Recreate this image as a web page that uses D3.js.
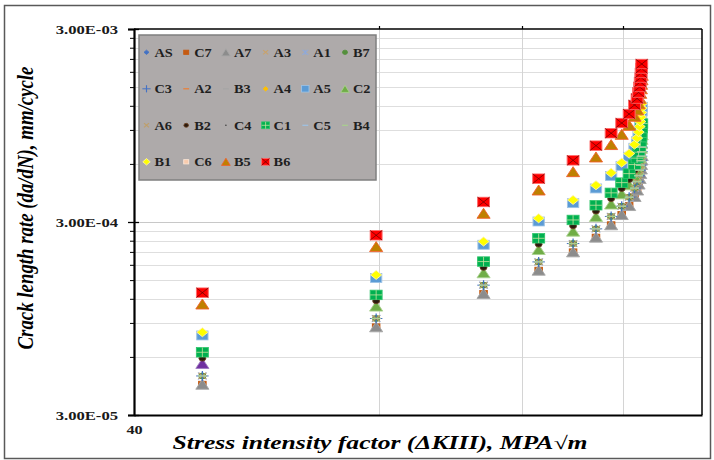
<!DOCTYPE html>
<html><head><meta charset="utf-8">
<script src="https://cdn.jsdelivr.net/npm/d3@7"></script>
<style>
body{margin:0;background:#fff}
svg{display:block}
text{font-family:"Liberation Serif","Times New Roman",serif}
</style>
</head><body>
<svg id="chart" width="714" height="460"></svg>
<script>
// ---------------- DATA ----------------
const stressIntensity = [48.55, 79.44, 107.7, 125.9, 138.8, 148.1, 154.6, 159.3, 162.7, 165.2, 166.4, 167.1, 167.6, 167.9, 168.2, 168.3, 168.5, 168.6];

const rateB6 = [1.291e-4, 2.56e-4, 3.81e-4, 5.03e-4, 6.26e-4, 7.46e-4, 8.65e-4, 9.77e-4, 1.088e-3, 1.212e-3, 1.309e-3, 1.406e-3, 1.502e-3, 1.594e-3, 1.682e-3, 1.775e-3, 1.873e-3, 1.976e-3];
const rateB5 = [1.128e-4, 2.237e-4, 3.329e-4, 4.395e-4, 5.470e-4, 6.519e-4, 7.558e-4, 8.537e-4, 9.507e-4, 1.059e-3, 1.144e-3, 1.229e-3, 1.312e-3, 1.393e-3, 1.470e-3, 1.551e-3, 1.637e-3, 1.727e-3];
const rateB1 = [0.805e-4, 1.596e-4, 2.376e-4, 3.136e-4, 3.903e-4, 4.651e-4, 5.393e-4, 6.092e-4, 6.784e-4, 7.557e-4, 8.162e-4, 8.766e-4, 9.365e-4, 9.939e-4, 1.0487e-3, 1.1067e-3, 1.1678e-3, 1.232e-3];
const rateA5 = [0.775e-4, 1.537e-4, 2.287e-4, 3.019e-4, 3.757e-4, 4.477e-4, 5.192e-4, 5.864e-4, 6.530e-4, 7.274e-4, 7.857e-4, 8.439e-4, 9.015e-4, 9.567e-4, 1.0095e-3, 1.0654e-3, 1.1242e-3, 1.186e-3];
const rateC1 = [0.634e-4, 1.257e-4, 1.871e-4, 2.470e-4, 3.074e-4, 3.664e-4, 4.248e-4, 4.798e-4, 5.343e-4, 5.952e-4, 6.429e-4, 6.905e-4, 7.376e-4, 7.828e-4, 8.260e-4, 8.717e-4, 9.198e-4, 9.704e-4];
const rateB2 = [0.590e-4, 1.170e-4, 1.742e-4, 2.299e-4, 2.861e-4, 3.410e-4, 3.954e-4, 4.466e-4, 4.973e-4, 5.540e-4, 5.983e-4, 6.427e-4, 6.866e-4, 7.286e-4, 7.688e-4, 8.114e-4, 8.561e-4, 9.032e-4];
const rateC2 = [0.555e-4, 1.100e-4, 1.637e-4, 2.161e-4, 2.690e-4, 3.206e-4, 3.717e-4, 4.198e-4, 4.675e-4, 5.208e-4, 5.625e-4, 6.042e-4, 6.454e-4, 6.849e-4, 7.228e-4, 7.627e-4, 8.048e-4, 8.491e-4];
const rateCluster = [0.478e-4, 0.949e-4, 1.412e-4, 1.864e-4, 2.320e-4, 2.765e-4, 3.206e-4, 3.621e-4, 4.032e-4, 4.492e-4, 4.851e-4, 5.211e-4, 5.566e-4, 5.907e-4, 6.233e-4, 6.578e-4, 6.941e-4, 7.323e-4];
const rateA7 = [0.433e-4, 0.859e-4, 1.279e-4, 1.688e-4, 2.101e-4, 2.504e-4, 2.903e-4, 3.279e-4, 3.651e-4, 4.067e-4, 4.393e-4, 4.718e-4, 5.041e-4, 5.349e-4, 5.645e-4, 5.957e-4, 6.286e-4, 6.631e-4];

const seriesNames = ["AS","C7","A7","A3","A1","B7","C3","A2","B3","A4","A5","C2","A6","B2","C4","C1","C5","B4","B1","C6","B5","B6"];
const seriesRates = {
  AS: rateCluster, C7: rateA7, A7: rateA7, A3: rateCluster, A1: rateCluster, B7: rateCluster,
  C3: rateCluster, A2: rateCluster, B3: rateCluster, A4: rateB1, A5: rateA5, C2: rateC2,
  A6: rateCluster, B2: rateB2, C4: rateCluster, C1: rateC1, C5: rateCluster, B4: rateCluster,
  B1: rateB1, C6: rateB6, B5: rateB5, B6: rateB6
};
const pointOverrides = [{series: "C2", index: 0, fill: "#7030a0", stroke: "#9e7cc1"}];

const yTickValues = [3e-5, 3e-4, 3e-3];
const yTickLabels = ["3.00E-05", "3.00E-04", "3.00E-03"];
const xTickValues = [40];
const xTickLabels = ["40"];
const xGridValues = [80, 120, 160];

const xTitle = "Stress intensity factor (ΔKIII), MPA√m";
const yTitle = "Crack length rate (da/dN), mm/cycle";

// ---------------- STYLES ----------------
const SERIF = '"Liberation Serif","Times New Roman",serif';
const markerStyle = {
  AS: {shape: "diamond", size: 6, fill: "#4472c4", stroke: "#4472c4"},
  C7: {shape: "square", size: 6, fill: "#c55a11", stroke: "#c55a11"},
  A7: {shape: "triangle", size: 10, fill: "#8c8c8c", stroke: "#a6a6a6"},
  A3: {shape: "x", size: 6, fill: "none", stroke: "#c9a26b"},
  A1: {shape: "star", size: 7, fill: "none", stroke: "#8faadc"},
  B7: {shape: "circle", size: 6, fill: "#548f3c", stroke: "#548f3c"},
  C3: {shape: "plus", size: 10, fill: "none", stroke: "#4472c4"},
  A2: {shape: "dash", size: 7, fill: "none", stroke: "#ed7d31"},
  B3: {shape: "dash", size: 7, fill: "none", stroke: "#a5a5a5"},
  A4: {shape: "diamond", size: 6, fill: "#ffc000", stroke: "#ffc000"},
  A5: {shape: "square", size: 9, fill: "#5b9bd5", stroke: "#9dc3e6"},
  C2: {shape: "triangle", size: 10, fill: "#70ad47", stroke: "#a9d18e"},
  A6: {shape: "x", size: 6, fill: "none", stroke: "#bf9f6a"},
  B2: {shape: "circle", size: 5.5, fill: "#2b1a0e", stroke: "#6b4020"},
  C4: {shape: "dot", size: 2, fill: "#404040", stroke: "none"},
  C1: {shape: "squarePlus", size: 9.5, fill: "#00b050", stroke: "#2fc56a", inner: "#c9e3a0"},
  C5: {shape: "dash", size: 7, fill: "none", stroke: "#9dc3e6"},
  B4: {shape: "dash", size: 7, fill: "none", stroke: "#a9d18e"},
  B1: {shape: "diamond", size: 9, fill: "#ffff00", stroke: "#fff2a8"},
  C6: {shape: "square", size: 6, fill: "#f8cbad", stroke: "#fbe5d6"},
  B5: {shape: "triangle", size: 10, fill: "#bf8000", stroke: "#f0602a"},
  B6: {shape: "squareX", size: 9.5, fill: "#ff0000", stroke: "#ff6a6a", inner: "#5a0000"}
};

function drawMarker(g, st, k, fill, stroke) {
  const h = st.size * k, r = h / 2;
  fill = fill || st.fill; stroke = stroke || st.stroke;
  const line = (x1, y1, x2, y2, c, w) => g.append("line").attr("x1", x1).attr("y1", y1).attr("x2", x2).attr("y2", y2)
      .attr("stroke", c).attr("stroke-width", w);
  switch (st.shape) {
    case "diamond":
      g.append("path").attr("d", `M0,${-r}L${r},0L0,${r}L${-r},0Z`).attr("fill", fill).attr("stroke", stroke).attr("stroke-width", 0.8); break;
    case "square":
      g.append("rect").attr("x", -r).attr("y", -r).attr("width", h).attr("height", h).attr("fill", fill).attr("stroke", stroke).attr("stroke-width", 0.8); break;
    case "squarePlus":
      g.append("rect").attr("x", -r).attr("y", -r).attr("width", h).attr("height", h).attr("fill", fill).attr("stroke", stroke).attr("stroke-width", 0.8);
      line(-r, 0, r, 0, st.inner, 0.7); line(0, -r, 0, r, st.inner, 0.7); break;
    case "squareX":
      g.append("rect").attr("x", -r).attr("y", -r).attr("width", h).attr("height", h).attr("fill", fill).attr("stroke", stroke).attr("stroke-width", 0.8);
      line(-r, -r, r, r, st.inner, 0.6); line(-r, r, r, -r, st.inner, 0.6); break;
    case "triangle":
      g.append("path").attr("d", `M0,${-r}L${r * 1.05},${r}L${-r * 1.05},${r}Z`).attr("fill", fill).attr("stroke", stroke).attr("stroke-width", 0.8); break;
    case "circle":
      g.append("circle").attr("r", r).attr("fill", fill).attr("stroke", stroke).attr("stroke-width", 0.8); break;
    case "dot":
      g.append("circle").attr("r", r).attr("fill", fill); break;
    case "x":
      line(-r, -r, r, r, stroke, 1); line(-r, r, r, -r, stroke, 1); break;
    case "star":
      line(-r, -r, r, r, stroke, 0.9); line(-r, r, r, -r, stroke, 0.9); line(0, -r, 0, r, stroke, 0.9); break;
    case "plus":
      line(-r, 0, r, 0, stroke, 1); line(0, -r, 0, r, stroke, 1); break;
    case "dash":
      line(-r, 0, r, 0, stroke, 1.2); break;
  }
}

// ---------------- LAYOUT ----------------
const svg = d3.select("#chart");
const L = 134, R = 702, T = 29, B = 415;
const stretch = 1.25;      // the reference is drawn horizontally stretched
const textStretch = 1.3;

const x = d3.scaleLog().domain([40, 200]).range([L, R]);
const y = d3.scaleLog().domain([3e-5, 3e-3]).range([B, T]);

// outer frame
svg.append("rect").attr("x", 4.5).attr("y", 5.5).attr("width", 706).attr("height", 453)
  .attr("fill", "#fff").attr("stroke", "#595959").attr("stroke-width", 1.5);

// minor y values (Excel-style minor units of a decade starting at 3e-5)
const yMinor = [];
yTickValues.slice(0, -1).forEach(d => { for (let n = 2; n <= 9; n++) yMinor.push(d * n); });

const grid = svg.append("g");
grid.selectAll("line.hy").data(yMinor.concat([yTickValues[1]])).join("line")
  .attr("x1", L).attr("x2", R).attr("y1", d => Math.round(y(d)) + 0.5).attr("y2", d => Math.round(y(d)) + 0.5)
  .attr("stroke", d => d === yTickValues[1] ? "#c8c8c8" : "#dedede").attr("stroke-width", 1);
grid.selectAll("line.vx").data(xGridValues).join("line")
  .attr("x1", d => Math.round(x(d)) + 0.5).attr("x2", d => Math.round(x(d)) + 0.5).attr("y1", T).attr("y2", B)
  .attr("stroke", "#d4d4d4").attr("stroke-width", 1);
grid.selectAll("line.tt").data(xGridValues).join("line")
  .attr("x1", d => Math.round(x(d)) + 0.5).attr("x2", d => Math.round(x(d)) + 0.5).attr("y1", T - 3).attr("y2", T)
  .attr("stroke", "#000").attr("stroke-width", 1.2);

// plot border top/right
svg.append("line").attr("x1", L).attr("x2", R).attr("y1", T).attr("y2", T).attr("stroke", "#000").attr("stroke-width", 1.5);
svg.append("line").attr("x1", R).attr("x2", R).attr("y1", T).attr("y2", B).attr("stroke", "#000").attr("stroke-width", 1.5);

// y axis
const yAxis = d3.axisLeft(y).tickValues(yTickValues).tickFormat((d, i) => yTickLabels[i]).tickSize(6).tickPadding(10);
const gy = svg.append("g").attr("transform", `translate(${L},0)`).call(yAxis);
gy.attr("font-family", null).attr("font-size", null);
gy.select(".domain").attr("stroke", "#000").attr("stroke-width", 2.2);
gy.selectAll(".tick line").attr("stroke", "#000").attr("stroke-width", 1.3).attr("x2", -6).attr("x1", 5);
gy.selectAll(".tick text")
  .attr("x", -(L - 118) / textStretch).attr("transform", `scale(${textStretch},1)`)
  .style("font-size", "12.8px").style("font-weight", "bold").style("font-family", SERIF)
  .attr("fill", "#1a1a1a");
const gyMinor = svg.append("g").attr("transform", `translate(${L},0)`)
  .call(d3.axisLeft(y).tickValues(yMinor).tickFormat("").tickSize(4));
gyMinor.select(".domain").remove();
gyMinor.selectAll(".tick line").attr("stroke", "#000").attr("stroke-width", 1);

// x axis
const xAxis = d3.axisBottom(x).tickValues(xTickValues).tickFormat((d, i) => xTickLabels[i]).tickSize(0).tickPadding(10);
const gx = svg.append("g").attr("transform", `translate(0,${B})`).call(xAxis);
gx.attr("font-family", null).attr("font-size", null);
gx.select(".domain").attr("stroke", "#000").attr("stroke-width", 2.2);
gx.selectAll(".tick text").attr("transform", `scale(${textStretch},1)`)
  .style("font-size", "12.5px").style("font-weight", "bold").style("font-family", SERIF)
  .attr("fill", "#1a1a1a");

// points
const pts = svg.append("g");
seriesNames.forEach(name => {
  const st = markerStyle[name];
  seriesRates[name].forEach((v, i) => {
    const ov = pointOverrides.find(o => o.series === name && o.index === i);
    const g = pts.append("g").attr("transform", `translate(${x(stressIntensity[i])},${y(v)}) scale(${stretch},1)`);
    drawMarker(g, st, 1, ov && ov.fill, ov && ov.stroke);
  });
});

// legend
const lg = svg.append("g");
lg.append("rect").attr("x", 139).attr("y", 35).attr("width", 237).attr("height", 145)
  .attr("fill", "#aeaaaa").attr("stroke", "#7f7f7f").attr("stroke-width", 1.5);
seriesNames.forEach((name, i) => {
  const c = i % 6, r = Math.floor(i / 6);
  const mx = 146.5 + c * 39.7, my = 52.3 + r * 36.5;
  const g = lg.append("g").attr("transform", `translate(${mx},${my}) scale(1.15,1)`);
  drawMarker(g, markerStyle[name], 0.72);
  lg.append("text").attr("transform", `translate(${mx + 8},${my + 4.4}) scale(1.12,1)`).text(name)
    .style("font-size", "12.8px").style("font-weight", "bold").attr("fill", "#1f1f1f");
});

// axis titles
const xt = svg.append("text").attr("text-anchor", "middle").text(xTitle)
  .style("font-size", "18px").style("font-weight", "bold").style("font-style", "italic").attr("fill", "#000");
const xtLen = xt.node().getComputedTextLength();
xt.attr("transform", `translate(380,448.5) scale(${415 / xtLen},1)`);

const yt = svg.append("text").attr("text-anchor", "middle").text(yTitle)
  .style("font-size", "19px").style("font-weight", "bold").style("font-style", "italic").attr("fill", "#000");
const ytLen = yt.node().getComputedTextLength();
yt.attr("transform", `translate(33,208) scale(1.2,1) rotate(-90) scale(${283 / ytLen},1)`);
</script>
</body></html>
